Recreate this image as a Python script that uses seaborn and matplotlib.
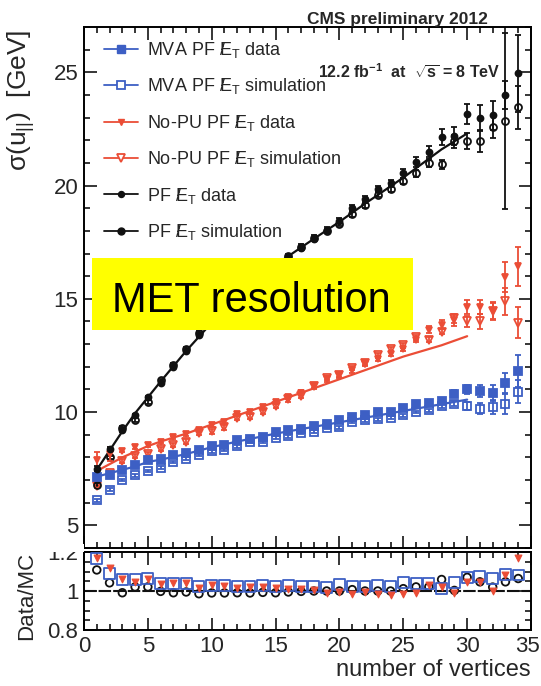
import matplotlib
matplotlib.use("Agg")
import matplotlib.pyplot as plt
import seaborn as sns
import pandas as pd
from matplotlib.lines import Line2D
from matplotlib.patches import Rectangle
from matplotlib.ticker import MultipleLocator, FixedLocator
from matplotlib.transforms import ScaledTranslation

# ---------------- data ----------------
n_vertices = list(range(1, 35))

# PF MET
pf_data = [7.5, 8.35, 9.2, 9.85, 10.65, 11.3, 12.0, 12.7, 13.4, 14.05, 14.6, 15.1, 15.55, 16.0, 16.45,
           16.85, 17.25, 17.65, 18.05, 18.45, 19.0, 19.4, 19.85, 20.1, 20.55, 21.05, 21.5, 22.15, 22.2,
           23.15, 23.0, 23.1, 24.0, 24.95]
pf_data_err = [0.12, 0.1, 0.1, 0.08, 0.08, 0.08, 0.08, 0.08, 0.08, 0.08, 0.08, 0.08, 0.08, 0.08, 0.08,
               0.1, 0.1, 0.1, 0.12, 0.12, 0.15, 0.15, 0.15, 0.15, 0.2, 0.22, 0.25, 0.35, 0.4,
               0.45, 0.55, 0.65, 0.6, 1.7]
pf_sim = [6.8, 8.0, 9.3, 9.65, 10.45, 11.4, 12.1, 12.8, 13.5, 14.15, 14.75, 15.25, 15.7, 16.15, 16.6,
          16.9, 17.3, 17.7, 18.0, 18.3, 18.75, 19.15, 19.6, 19.85, 20.2, 20.55, 21.0, 20.95, 21.95,
          21.95, 21.95, 22.6, 22.85, 23.45]
pf_sim_err = [0.08, 0.08, 0.08, 0.08, 0.08, 0.08, 0.08, 0.08, 0.08, 0.08, 0.08, 0.08, 0.08, 0.08, 0.08,
              0.1, 0.1, 0.1, 0.1, 0.1, 0.12, 0.12, 0.12, 0.12, 0.15, 0.15, 0.18, 0.2, 0.3,
              0.35, 0.45, 0.5, 3.9, 0.95]

# MVA PF MET
mva_data = [7.13, 7.21, 7.43, 7.65, 7.87, 7.92, 8.09, 8.21, 8.31, 8.49, 8.53, 8.75, 8.81, 8.9, 9.12,
            9.19, 9.27, 9.37, 9.49, 9.64, 9.78, 9.86, 10.0, 10.0, 10.18, 10.37, 10.42, 10.48, 10.82,
            11.0, 10.93, 10.84, 11.28, 11.8]
mva_data_err = [0.06] * 26 + [0.08, 0.1, 0.15, 0.2, 0.28, 0.35, 0.45, 0.7]
mva_sim = [6.1, 6.57, 7.0, 7.21, 7.4, 7.55, 7.8, 7.94, 8.12, 8.27, 8.34, 8.49, 8.68, 8.68, 8.87,
           8.93, 9.08, 9.14, 9.3, 9.32, 9.56, 9.64, 9.68, 9.75, 9.86, 10.0, 10.08, 10.27, 10.37,
           10.27, 10.15, 10.22, 10.37, 10.9]
mva_sim_err = [0.06] * 27 + [0.1, 0.12, 0.18, 0.25, 0.3, 0.45, 0.5]

# No-PU PF MET
nopu_data = [7.87, 8.14, 8.3, 8.45, 8.55, 8.7, 8.88, 9.03, 9.22, 9.42, 9.57, 9.9, 10.0, 10.22, 10.44,
             10.66, 10.86, 11.16, 11.45, 11.62, 11.84, 12.14, 12.36, 12.58, 12.8, 13.2, 13.64, 13.85,
             14.05, 14.64, 14.64, 14.45, 15.96, 16.43]
nopu_data_err = [0.38, 0.3] + [0.08] * 14 + [0.1] * 10 + [0.15, 0.2, 0.25, 0.3, 0.3, 0.35, 0.65, 0.85]
nopu_sim = [6.73, 7.29, 7.84, 8.07, 8.15, 8.38, 8.55, 8.7, 9.07, 9.15, 9.33, 9.73, 9.8, 10.01, 10.27,
            10.56, 10.73, 11.13, 11.5, 11.65, 11.95, 12.18, 12.5, 12.78, 12.95, 13.3, 13.2, 13.55,
            14.15, 14.0, 14.0, 14.45, 14.9, 13.95]
nopu_sim_err = [0.1] * 28 + [0.2, 0.25, 0.35, 0.4, 0.6, 0.7]

# fitted trends
fit_n = [1, 2, 3, 4, 5, 6, 8, 10, 12, 15, 18, 20, 22, 25, 28, 30]
pf_fit = [7.45, 8.3, 9.15, 9.95, 10.65, 11.35, 12.7, 13.95, 15.05, 16.5, 17.65, 18.4, 19.2, 20.35, 21.6, 22.3]
nopu_fit = [7.4, 7.7, 8.0, 8.25, 8.5, 8.7, 9.05, 9.45, 9.85, 10.45, 11.05, 11.45, 11.85, 12.45, 12.95, 13.35]
mva_fit = [7.15, 7.3, 7.45, 7.6, 7.8, 7.9, 8.15, 8.45, 8.7, 9.05, 9.35, 9.55, 9.75, 10.05, 10.35, 10.55]

# data / MC ratios
ratio_mva = [1.165, 1.09, 1.059, 1.059, 1.064, 1.038, 1.038, 1.038, 1.021, 1.03, 1.026, 1.021, 1.021,
             1.03, 1.021, 1.03, 1.024, 1.021, 1.019, 1.033, 1.021, 1.021, 1.03, 1.021, 1.043, 1.038,
             1.038, 1.012, 1.043, 1.07, 1.073, 1.064, 1.085, 1.082]
ratio_nopu = [1.169, 1.117, 1.059, 1.047, 1.059, 1.038, 1.042, 1.042, 1.017, 1.03, 1.026, 1.017, 1.021,
              1.021, 1.017, 1.009, 1.012, 1.003, 0.991, 0.995, 0.986, 0.995, 0.986, 0.981, 0.986, 0.99,
              1.03, 1.021, 0.991, 1.047, 1.047, 0.998, 1.082, 1.169]
ratio_pf = [1.108, 1.042, 0.991, 1.021, 1.021, 0.998, 0.991, 0.995, 0.986, 0.99, 0.99, 0.991, 0.99,
            0.993, 0.991, 0.995, 0.998, 1.0, 1.0, 1.0, 1.007, 1.0, 1.0, 1.0, 1.012, 1.021, 1.021, 1.059,
            1.003, 1.07, 1.047, 1.02, 1.047, 1.064]

x_ticks = [0, 5, 10, 15, 20, 25, 30, 35]
y_ticks = [5, 10, 15, 20, 25]
ratio_ticks = [0.8, 1.0, 1.2]
ratio_tick_labels = ["0.8", "1", "1.2"]

# ---------------- style ----------------
sns.set_theme(style="ticks")
plt.rcParams.update({
    "font.family": ["Liberation Sans", "DejaVu Sans"],
    "mathtext.fontset": "custom",
    "mathtext.rm": "Liberation Sans",
    "mathtext.it": "Liberation Sans:italic",
    "mathtext.bf": "Liberation Sans:bold",
    "mathtext.default": "regular",
    "axes.linewidth": 1.4,
    "axes.edgecolor": "black",
    "figure.facecolor": "white",
    "axes.facecolor": "white",
})

BLUE = "#3d5fc4"
RED = "#eb4d36"
BLACK = "#111111"

W, H = 541, 686
fig = plt.figure(figsize=(W / 100, H / 100), dpi=100)

def frac_box(left, top, right, bottom):
    return [left / W, 1 - bottom / H, (right - left) / W, (bottom - top) / H]

ax = fig.add_axes(frac_box(84, 27, 531, 548))
axr = fig.add_axes(frac_box(84, 552, 531, 630))

# ---------------- fit lines ----------------
fits = pd.DataFrame({"n": fit_n, "pf": pf_fit, "nopu": nopu_fit, "mva": mva_fit})
sns.lineplot(data=fits, x="n", y="mva", color=BLUE, lw=1.6, ax=ax, zorder=2)
sns.lineplot(data=fits, x="n", y="nopu", color=RED, lw=1.6, ax=ax, zorder=2)
sns.lineplot(data=fits, x="n", y="pf", color=BLACK, lw=1.6, ax=ax, zorder=2)

# ---------------- points ----------------
def points(y, err, color, marker, ms, filled, z):
    ax.errorbar(n_vertices, y, yerr=err, fmt=marker, ms=ms, color=color,
                mfc=color if filled else "none", mec=color, mew=1.3,
                ecolor=color, elinewidth=1.3, capsize=2.2, capthick=1.3, zorder=z)

points(mva_sim, mva_sim_err, BLUE, "s", 6.4, False, 3)
points(mva_data, mva_data_err, BLUE, "s", 5.4, True, 4)
points(nopu_sim, nopu_sim_err, RED, "v", 5.8, False, 3)
points(nopu_data, nopu_data_err, RED, "v", 4.8, True, 4)
points(pf_sim, pf_sim_err, BLACK, "o", 5.0, False, 3)
points(pf_data, pf_data_err, BLACK, "o", 4.3, True, 4)

ax.set_xlim(0, 35)
ax.set_ylim(4.0, 27.0)
ax.set_xlabel("")
ax.set_ylabel(r"$\sigma(u_{||})$  [GeV]", fontsize=19, loc="top")
ax.yaxis.set_label_coords(-0.105, 0.994)
ax.xaxis.set_major_locator(FixedLocator(x_ticks))
ax.xaxis.set_minor_locator(MultipleLocator(1))
ax.yaxis.set_major_locator(FixedLocator(y_ticks))
ax.yaxis.set_minor_locator(MultipleLocator(1))
ax.tick_params(which="both", direction="in", top=True, right=True, width=1.3, labelbottom=False)
ax.tick_params(which="major", length=9)
ax.tick_params(which="minor", length=4.5)
ax.tick_params(axis="y", labelsize=16, pad=4)
for s in ax.spines.values():
    s.set_visible(True)

# ---------------- legend ----------------
met = r"$/\!\!E_{T}$"
handles = [
    Line2D([], [], color=BLUE, lw=1.3, marker="s", ms=5.4, mfc=BLUE, mec=BLUE),
    Line2D([], [], color=BLUE, lw=1.3, marker="s", ms=6.4, mfc="white", mec=BLUE, mew=1.3),
    Line2D([], [], color=RED, lw=1.3, marker="v", ms=4.8, mfc=RED, mec=RED),
    Line2D([], [], color=RED, lw=1.3, marker="v", ms=5.8, mfc="white", mec=RED, mew=1.3),
    Line2D([], [], color=BLACK, lw=1.3, marker="o", ms=4.3, mfc=BLACK, mec=BLACK),
    Line2D([], [], color=BLACK, lw=1.3, marker="o", ms=5.0, mfc=BLACK, mec=BLACK),
]
labels = [
    f"MVA PF {met} data",
    f"MVA PF {met} simulation",
    f"No-PU PF {met} data",
    f"No-PU PF {met} simulation",
    f"PF {met} data",
    f"PF {met} simulation",
]
ax.legend(handles, labels, loc="upper left", bbox_to_anchor=(0.045, 0.975), frameon=False,
          fontsize=13, handlelength=1.9, handletextpad=0.5, labelspacing=0.91,
          borderaxespad=0, borderpad=0)

# ---------------- annotations ----------------
ax.text(0.931, 0.9136, r"12.2 fb$^{-1}$  at  $\sqrt{s}$ = 8 TeV", transform=ax.transAxes,
        ha="right", va="center", fontsize=11.5, fontweight="bold")
fig.text(488 / W, 1 - 24 / H, "CMS preliminary 2012", ha="right", va="baseline",
         fontsize=12.5, fontweight="bold")

ax.add_patch(Rectangle(((92 - 84) / 447, (548 - 330) / 521), (413 - 92) / 447, (330 - 258) / 521,
                       transform=ax.transAxes, facecolor="#ffff00", edgecolor="none", zorder=10))
ax.text((112 - 84) / 447, (548 - 312) / 521, "MET resolution", transform=ax.transAxes,
        ha="left", va="baseline", fontsize=30, color="black", zorder=11,
        family=["Liberation Sans", "DejaVu Sans"])

# ---------------- ratio panel ----------------
axr.axhline(1.0, color=BLACK, lw=1.5, ls=(0, (6, 1)), zorder=1)
ratios = pd.DataFrame({"n": n_vertices, "mva": ratio_mva, "nopu": ratio_nopu, "pf": ratio_pf})
sns.scatterplot(data=ratios, x="n", y="pf", marker="o", s=30, facecolors="none",
                edgecolor=BLACK, linewidth=1.3, ax=axr, zorder=3)
sns.scatterplot(data=ratios, x="n", y="mva", marker="s", s=62, facecolors="none",
                edgecolor=BLUE, linewidth=1.3, ax=axr, zorder=4)
sns.scatterplot(data=ratios, x="n", y="nopu", marker="v", s=24, color=RED,
                edgecolor=RED, linewidth=0.8, ax=axr, zorder=5)

axr.set_xlim(0, 35)
axr.set_ylim(0.8, 1.2)
axr.xaxis.set_major_locator(FixedLocator(x_ticks))
axr.xaxis.set_minor_locator(MultipleLocator(1))
axr.yaxis.set_major_locator(FixedLocator(ratio_ticks))
axr.set_yticklabels(ratio_tick_labels)
axr.yaxis.set_minor_locator(MultipleLocator(0.05))
axr.tick_params(which="both", direction="in", top=True, right=True, width=1.3)
axr.tick_params(which="major", length=9)
axr.tick_params(which="minor", length=4.5)
axr.tick_params(labelsize=16, pad=4)
axr.set_xlabel("number of vertices", fontsize=17, loc="right", labelpad=2)
axr.set_ylabel("Data/MC", fontsize=16, loc="top")
axr.yaxis.set_label_coords(-0.105, 1.0)

# nudge the last x label so it stays inside the canvas
last = axr.get_xticklabels()[-1]
last.set_transform(last.get_transform() + ScaledTranslation(-4 / 100, 0, fig.dpi_scale_trans))

# white strip masking the top of the ratio labels
fig.add_artist(Rectangle((0, 1 - 552 / H), 84 / W, 8 / H, transform=fig.transFigure,
                         facecolor="white", edgecolor="none", zorder=5))

fig.savefig("out.png", dpi=100)
